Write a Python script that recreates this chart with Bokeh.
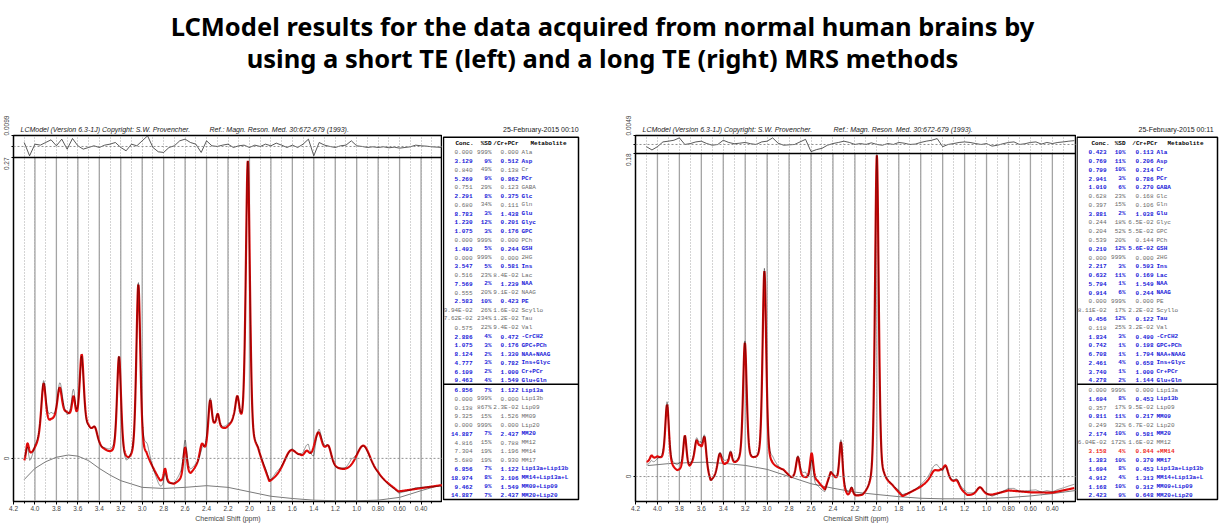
import numpy as np
from bokeh.plotting import figure
from bokeh.models import Range1d, FixedTicker, CustomJSTickFormatter, Span, ColumnDataSource
from bokeh.layouts import row, column
from bokeh.embed import file_html
from bokeh.resources import INLINE
from bokeh.core.properties import value

# ---------------------------------------------------------------- texts
TITLE_LINES = ["LCModel results for the data acquired from normal human brains by",
               "using a short TE (left) and a long TE (right) MRS methods"]
HEADER_LEFT = "LCModel (Version 6.3-1J) Copyright: S.W. Provencher."
HEADER_REF = "Ref.: Magn. Reson. Med. 30:672-679 (1993)."
DATES = ["25-February-2015  00:10", "25-February-2015  00:11"]
X_TICK_VALUES = [4.2, 4.0, 3.8, 3.6, 3.4, 3.2, 3.0, 2.8, 2.6, 2.4, 2.2, 2.0,
                 1.8, 1.6, 1.4, 1.2, 1.0, 0.8, 0.6, 0.4]
X_TICK_LABELS = ["4.2", "4.0", "3.8", "3.6", "3.4", "3.2", "3.0", "2.8", "2.6", "2.4", "2.2", "2.0",
                 "1.8", "1.6", "1.4", "1.2", "1.0", "0.80", "0.60", "0.40"]
X_AXIS_LABEL = "Chemical Shift (ppm)"
TABLE_HEADER = ["Conc.", "%SD", "/Cr+PCr", "Metabolite"]

# ---------------------------------------------------------------- table values
METABS = ["Ala", "Asp", "Cr", "PCr", "GABA", "Glc", "Gln", "Glu", "Glyc", "GPC", "PCh", "GSH", "2HG",
          "Ins", "Lac", "NAA", "NAAG", "PE", "Scyllo", "Tau", "Val", "-CrCH2", "GPC+PCh",
          "NAA+NAAG", "Ins+Glyc", "Cr+PCr", "Glu+Gln"]
LIPMM = ["Lip13a", "Lip13b", "Lip09", "MM09", "Lip20", "MM20", "MM12", "MM14", "MM17",
         "Lip13a+Lip13b", "MM14+Lip13a+L", "MM09+Lip09", "MM20+Lip20"]

L_CONC = ["0.000", "3.129", "0.840", "5.269", "0.751", "2.291", "0.680", "8.783", "1.230", "1.075",
          "0.000", "1.493", "0.000", "3.547", "0.516", "7.569", "0.555", "2.583", "9.94E-02",
          "7.62E-02", "0.575", "2.886", "1.075", "8.124", "4.777", "6.109", "9.463"]
L_SD = [999, 9, 49, 9, 29, 8, 34, 3, 12, 3, 999, 5, 999, 5, 23, 2, 20, 10, 26, 234, 22, 4, 3, 2, 3, 2, 4]
L_RATIO = ["0.000", "0.512", "0.138", "0.862", "0.123", "0.375", "0.111", "1.438", "0.201", "0.176",
           "0.000", "0.244", "0.000", "0.581", "8.4E-02", "1.239", "9.1E-02", "0.423", "1.6E-02",
           "1.2E-02", "9.4E-02", "0.472", "0.176", "1.330", "0.782", "1.000", "1.549"]
L_LCONC = ["6.856", "0.000", "0.138", "9.325", "0.000", "14.887", "4.816", "7.304", "5.680",
           "6.856", "18.974", "9.462", "14.887"]
L_LSD = [7, 999, 867, 15, 999, 7, 15, 19, 19, 7, 8, 9, 7]
L_LRATIO = ["1.122", "0.000", "2.3E-02", "1.526", "0.000", "2.437", "0.788", "1.196", "0.930",
            "1.122", "3.106", "1.549", "2.437"]

R_CONC = ["0.423", "0.769", "0.799", "2.941", "1.010", "0.628", "0.397", "3.881", "0.244", "0.204",
          "0.539", "0.210", "0.000", "2.217", "0.632", "5.794", "0.914", "0.000", "8.11E-02",
          "0.456", "0.118", "1.834", "0.742", "6.708", "2.461", "3.740", "4.278"]
R_SD = [10, 11, 10, 3, 6, 23, 15, 2, 18, 52, 20, 12, 999, 3, 11, 1, 6, 999, 17, 12, 25, 3, 1, 1, 4, 1, 2]
R_RATIO = ["0.113", "0.206", "0.214", "0.786", "0.270", "0.168", "0.106", "1.038", "6.5E-02",
           "5.5E-02", "0.144", "5.6E-02", "0.000", "0.593", "0.169", "1.549", "0.244", "0.000",
           "2.2E-02", "0.122", "3.2E-02", "0.490", "0.198", "1.794", "0.658", "1.000", "1.144"]
R_LCONC = ["0.000", "1.694", "0.357", "0.811", "0.249", "2.174", "6.04E-02", "3.158", "1.383",
           "1.694", "4.912", "1.168", "2.423"]
R_LSD = [999, 8, 17, 11, 32, 10, 172, 4, 10, 8, 4, 10, 9]
R_LRATIO = ["0.000", "0.453", "9.5E-02", "0.217", "6.7E-02", "0.581", "1.6E-02", "0.844", "0.370",
            "0.453", "1.313", "0.312", "0.648"]
R_FLAGGED = "MM14"

# ---------------------------------------------------------------- spectra
L_Y_TOP, L_RES_MAX = 0.27, 0.0099
R_Y_TOP, R_RES_MAX = 0.18, 0.0049
L_Y_VIEW = (-0.0387, 0.2897)
R_Y_VIEW = (-0.0139, 0.1900)

# short TE: valleys / slope points of the fit (ppm, value)
L_ENV_PPM = [4.10, 4.016, 3.85, 3.705, 3.61, 3.50, 3.378, 3.316, 3.13, 2.96, 2.834, 2.703, 2.548,
             2.41, 2.327, 2.22, 2.15, 1.92, 1.814, 1.528, 1.124, 0.80, 0.611, 0.40, 0.22]
L_ENV_VAL = [-0.004, 0.0054, 0.032, 0.039, 0.031, 0.026, 0.0084, 0.004, -0.005, 0.0, -0.0214,
             -0.024, -0.0155, 0.004, 0.0248, 0.025, 0.03, 0.004, -0.0229, -0.0036, -0.0125,
             -0.017, -0.0304, -0.027, -0.0244]
# short TE: peak apexes (ppm, value, width ppm)
L_PK_PPM = [4.07, 3.92, 3.77, 3.64, 3.564, 3.44, 3.216, 3.036, 2.787, 2.60, 2.445, 2.367, 2.296,
            2.113, 2.015, 1.965, 1.62, 1.465, 1.357, 1.264, 0.937]
L_PK_VAL = [0.0134, 0.067, 0.0635, 0.056, 0.0933, 0.028, 0.0912, 0.156, -0.0092, 0.0098, 0.0129,
            0.052, 0.040, 0.056, 0.267, 0.028, 0.0069, 0.0069, 0.0233, 0.0114, 0.0114]
L_PK_FWHM = [0.03, 0.05, 0.05, 0.035, 0.045, 0.05, 0.045, 0.045, 0.03, 0.04, 0.045, 0.04, 0.035,
             0.045, 0.045, 0.04, 0.14, 0.06, 0.09, 0.07, 0.16]
L_BASE_PPM = [4.10, 4.00, 3.90, 3.80, 3.69, 3.60, 3.50, 3.40, 3.30, 3.20, 3.10, 3.00, 2.80, 2.60,
              2.40, 2.20, 2.00, 1.80, 1.60, 1.40, 1.20, 1.00, 0.80, 0.60, 0.40, 0.22]
L_BASE_VAL = [-0.019, -0.009, -0.003, 0.001, 0.003, 0.002, -0.002, -0.009, -0.015, -0.020, -0.023,
              -0.026, -0.027, -0.026, -0.0245, -0.026, -0.030, -0.034, -0.036, -0.0375, -0.038,
              -0.038, -0.0375, -0.035, -0.029, -0.024]
# residual every 0.05 ppm from 4.10 to 0.20
L_RESID = [0.0036, -0.0084, 0.0021, 0.0012, 0.0036, 0.0060, 0.0006, 0.0066, -0.0024, 0.0072,
           0.0006, -0.0024, -0.0009, 0.0006, -0.0009, 0.0012, 0.0021, 0.0036, -0.0009, -0.0039,
           0.0021, 0.0006, 0.0051, 0.0096, -0.0009, -0.0048, -0.0054, -0.0009, 0.0006, 0.0051,
           0.0066, 0.0036, 0.0021, -0.0054, 0.0051, 0.0006, 0.0, 0.0012, 0.0021, -0.0009,
           0.0006, 0.0012, -0.0009, 0.0012, 0.0, 0.0021, 0.0006, 0.0030, 0.0012, -0.0009,
           0.0012, -0.0009, 0.0021, 0.0066, -0.0084, 0.0036, 0.0012, 0.0, -0.0009, 0.0006,
           0.0012, 0.0051, 0.0006, 0.0, -0.0009, -0.0003, -0.0009, -0.0003, -0.0012, -0.0006,
           -0.0015, -0.0009, -0.0003, 0.0012, 0.0006, 0.0003, -0.0003, -0.0006, -0.0009]

# long TE
R_ENV_PPM = [4.09, 4.00, 3.82, 3.706, 3.61, 3.515, 3.373, 3.29, 3.115, 2.93, 2.85, 2.78, 2.66,
             2.54, 2.473, 2.42, 2.266, 2.13, 1.934, 1.86, 1.766, 1.60, 1.42, 1.175, 0.95, 0.80,
             0.60, 0.40, 0.19]
R_ENV_VAL = [0.008, 0.0105, 0.0024, 0.0043, 0.0155, -0.0032, 0.0061, 0.0061, 0.0075, 0.0043,
             0.003, -0.0013, -0.0013, -0.0032, -0.0078, 0.002, -0.0115, -0.0119, -0.0041, -0.006,
             -0.0115, -0.006, 0.0024, -0.0106, -0.0103, -0.0078, -0.0088, -0.009, -0.0063]
R_PK_PPM = [4.055, 3.912, 3.75, 3.645, 3.57, 3.433, 3.333, 3.203, 3.025, 2.72, 2.594, 2.327, 2.23,
            2.0, 1.479, 1.373, 1.27, 1.06]
R_PK_VAL = [0.0117, 0.040, 0.0228, 0.020, 0.0219, 0.0126, 0.0135, 0.0745, 0.1144, 0.0108, 0.013,
            0.0191, -0.0063, 0.179, 0.0033, 0.0061, -0.0022, -0.006]
R_PK_FWHM = [0.03, 0.04, 0.035, 0.035, 0.035, 0.045, 0.03, 0.04, 0.04, 0.04, 0.035, 0.035, 0.03,
             0.04, 0.07, 0.05, 0.05, 0.07]
R_BASE_PPM = [4.09, 3.90, 3.70, 3.57, 3.40, 3.20, 3.00, 2.80, 2.60, 2.40, 2.20, 2.00, 1.80, 1.60,
              1.40, 1.20, 1.00, 0.80, 0.60, 0.40, 0.19]
R_BASE_VAL = [0.0061, 0.0072, 0.0078, 0.008, 0.0074, 0.0062, 0.0040, 0.0, -0.0040, -0.0065,
              -0.0087, -0.0100, -0.0112, -0.0121, -0.0124, -0.0124, -0.0122, -0.0117, -0.0108,
              -0.0095, -0.0078]
R_RESID = [-0.0012, -0.0030, -0.0012, 0.0014, 0.0018, 0.0023, 0.0036, 0.0, 0.0005, 0.0014,
           0.0018, 0.0005, -0.0004, 0.0, 0.0023, 0.0011, 0.0004, 0.0007, 0.0011, 0.0004,
           0.0, 0.0014, 0.0018, 0.0036, 0.0007, -0.0004, -0.0002, 0.0, 0.0014, 0.0028,
           -0.0039, -0.0028, -0.0021, -0.0004, 0.0005, 0.0011, 0.0018, 0.0011, 0.0, 0.0005,
           0.0, 0.0009, 0.0, -0.0004, 0.0005, 0.0, 0.0011, 0.0007, 0.0, 0.0002,
           0.0011, 0.0018, 0.0023, 0.0032, -0.0012, 0.0, 0.0005, 0.0011, 0.0014, 0.0011,
           0.0005, 0.0, 0.0005, -0.0009, -0.0004, 0.0004, 0.0011, 0.0014, 0.0, 0.0004,
           0.0011, 0.0014, 0.0002, 0.0011, 0.0005, 0.0011, 0.0014, 0.0018, 0.0021]

# ---------------------------------------------------------------- style / layout
ROW_TOP, PAGE_BOTTOM, PAGE_RIGHT = 100, 524, 1220
BORDER_TOP, BORDER_BOTTOM = 35, 23          # shared by every plot of the row
FRAME_TOP, FRAME_BOTTOM = ROW_TOP + BORDER_TOP, PAGE_BOTTOM - BORDER_BOTTOM
SANS = "Liberation Sans"
MONO = "Liberation Mono"
BLUE, GRAY, RED = "#2020d8", "#6a6a6a", "#ee2a1e"
FIT_RED = "#e00a0a"
NB = "\u00a0"
TABLE_FONT = "6px"


def shape(x, c, w):
    d = (x - c) / (w / 2.0)
    return 0.6 * np.exp(-np.log(2) * d * d) + 0.4 / (1 + d * d)


def build_fit(grid, env_p, env_v, pk_p, pk_v, pk_w):
    ep, ev = np.array(env_p), np.array(env_v)
    o = np.argsort(ep)
    env = lambda x: np.interp(x, ep[o], ev[o])
    pp, pv, pw = np.array(pk_p), np.array(pk_v), np.array(pk_w)
    A = shape(pp[:, None], pp[None, :], pw[None, :])
    h = np.linalg.solve(A, pv - env(pp))
    return env(grid) + shape(grid[:, None], pp[None, :], pw[None, :]) @ h


def style_title(t, text, align, offset, font_style):
    t.text = text
    t.align = align
    t.offset = offset
    t.text_font = SANS
    t.text_font_size = "7px"
    t.text_font_style = font_style
    t.text_color = "#1a1a1a"
    t.standoff = 6


def spectrum_panel(width, border_left, x_end, y_view, y_top, res_max, title_offset, gap,
                   env_p, env_v, pk_p, pk_v, pk_w, base_p, base_v, resid):
    y_lo, y_hi = y_view
    p = figure(width=width, height=PAGE_BOTTOM - ROW_TOP, x_range=Range1d(4.2, x_end),
               y_range=Range1d(y_lo, y_hi), output_backend="svg", toolbar_location=None,
               min_border_left=border_left, min_border_right=0, min_border_top=BORDER_TOP,
               min_border_bottom=BORDER_BOTTOM)
    style_title(p.title, HEADER_LEFT + NB * gap + HEADER_REF, "left", title_offset, "italic")

    frac = (y_hi - y_top) / (y_hi - y_lo)
    p.extra_y_ranges = {"res": Range1d(res_max - 2 * res_max / frac, res_max)}

    res_ppm = 4.10 - 0.05 * np.arange(len(resid))
    grid = np.linspace(4.10, res_ppm[-1], 1561)
    fit = build_fit(grid, env_p, env_v, pk_p, pk_v, pk_w)
    data = fit + np.interp(grid, res_ppm[::-1], np.array(resid)[::-1])

    minor = [round((a + b) / 2, 2) for a, b in zip(X_TICK_VALUES[:-1], X_TICK_VALUES[1:])] + [0.3]
    p.xgrid.ticker = FixedTicker(ticks=sorted(X_TICK_VALUES + minor, reverse=True))
    p.xgrid.grid_line_color = "#a8a8a8"
    p.xgrid.grid_line_dash = "1 2"
    p.ygrid.visible = False
    solid = X_TICK_VALUES[1:]
    p.segment(x0=solid, x1=solid, y0=[y_lo] * len(solid), y1=[y_top] * len(solid),
              line_color="#a4a4a4", line_width=1.3)

    p.add_layout(Span(location=0, dimension="width", line_color="#909090", line_dash="2 2", line_width=1))
    p.add_layout(Span(location=0, dimension="width", y_range_name="res", line_color="#909090",
                      line_dash="2 2", line_width=1))
    p.add_layout(Span(location=y_top, dimension="width", line_color="black", line_width=1.5))

    p.line(base_p, base_v, line_color="#7a7a7a", line_width=1)
    p.line(grid, fit, line_color=FIT_RED, line_width=2.2)
    p.line(grid, data, line_color="black", line_width=0.7, line_alpha=0.6)
    p.line(res_ppm, resid, y_range_name="res", line_color="#303030", line_width=0.8)

    p.outline_line_color = "black"
    p.outline_line_width = 1.5

    xa = p.xaxis[0]
    xa.ticker = FixedTicker(ticks=X_TICK_VALUES, minor_ticks=minor)
    xa.formatter = CustomJSTickFormatter(args=dict(vals=X_TICK_VALUES, labs=X_TICK_LABELS), code="""
        for (let i = 0; i < vals.length; i++) { if (Math.abs(vals[i] - tick) < 1e-6) return labs[i]; }
        return "";""")
    xa.axis_label = X_AXIS_LABEL
    xa.axis_label_text_font = SANS
    xa.axis_label_text_font_size = "7px"
    xa.axis_label_text_font_style = "normal"
    xa.axis_label_standoff = 1
    xa.major_label_text_font = SANS
    xa.major_label_text_font_size = "6.5px"
    xa.major_label_standoff = 1
    xa.major_tick_out, xa.major_tick_in = 3, 0
    xa.minor_tick_out, xa.minor_tick_in = 2, 0
    xa.axis_line_color = "black"

    # rotated labels: the main-top label sits below its tick, the residual one above its tick
    y_ticks = [0.0, y_top, (y_top + y_hi) / 2, y_hi - 1e-7]
    y_labels = ["0", str(y_top) + NB * 7, "", NB * 11 + str(res_max)]
    ya = p.yaxis[0]
    ya.ticker = FixedTicker(ticks=y_ticks, minor_ticks=[])
    ya.formatter = CustomJSTickFormatter(args=dict(vals=y_ticks, labs=y_labels), code="""
        for (let i = 0; i < vals.length; i++) { if (Math.abs(vals[i] - tick) < 1e-6) return labs[i]; }
        return "";""")
    ya.major_label_orientation = "vertical"
    ya.major_label_text_font = SANS
    ya.major_label_text_font_size = "6.5px"
    ya.major_label_standoff = 1
    ya.major_tick_out, ya.major_tick_in = 2, 0
    ya.axis_line_color = "black"
    return p


def table_panel(x0, x1, box, cols, hdr, date_offset, date, conc, sd, ratio, lconc, lsd, lratio,
                flagged=None):
    # frame covers the table area; y axis of the frame is in page pixels (downwards)
    p = figure(width=x1 - x0, height=PAGE_BOTTOM - ROW_TOP, x_range=Range1d(x0, x1),
               y_range=Range1d(FRAME_BOTTOM, FRAME_TOP - 1), output_backend="svg",
               toolbar_location=None, min_border_left=0, min_border_right=0,
               min_border_top=BORDER_TOP, min_border_bottom=BORDER_BOTTOM,
               x_axis_location=None, y_axis_location=None)
    style_title(p.title, date, "right", date_offset, "normal")
    p.grid.visible = False
    p.outline_line_color = None
    bl, br, bt, bb, sep = box
    p.quad(left=[bl], right=[br], top=[bt], bottom=[bb], fill_color=None, line_color="black", line_width=1.5)
    p.segment(x0=[bl], x1=[br], y0=[sep], y1=[sep], line_color="black", line_width=1.5)

    for x, t, a in zip(hdr, TABLE_HEADER, ["left", "right", "right", "left"]):
        p.text(x=[x], y=[142], text=[t], text_align=a, text_baseline="middle", text_font=value(MONO),
               text_font_size=value(TABLE_FONT), text_font_style="bold", text_color="black")

    names = METABS + LIPMM
    ys = [150.8 + 8.8 * i for i in range(len(METABS))] + [389.2 + 8.8 * i for i in range(len(LIPMM))]
    all_conc, all_sd, all_ratio = conc + lconc, sd + lsd, ratio + lratio
    colors, styles, shown = [], [], []
    for n, s in zip(names, all_sd):
        if flagged is not None and n == flagged:
            colors.append(RED); styles.append("bold"); shown.append("+" + n)
        elif s <= 12:
            colors.append(BLUE); styles.append("bold"); shown.append(n)
        else:
            colors.append(GRAY); styles.append("normal"); shown.append(n)
    src = ColumnDataSource(dict(y=ys, conc=all_conc, sd=[f"{s}%" for s in all_sd], ratio=all_ratio,
                                name=shown, c=colors, fs=styles,
                                xc=[cols[0]] * len(ys), xs=[cols[1]] * len(ys),
                                xr=[cols[2]] * len(ys), xn=[cols[3]] * len(ys)))
    for xf, tf, al in [("xc", "conc", "right"), ("xs", "sd", "right"), ("xr", "ratio", "right"),
                       ("xn", "name", "left")]:
        p.text(x=xf, y="y", text=tf, source=src, text_align=al, text_baseline="middle",
               text_font=value(MONO), text_font_size=value(TABLE_FONT), text_font_style="fs",
               text_color="c")
    return p


# ---------------------------------------------------------------- title
title_fig = figure(width=PAGE_RIGHT, height=ROW_TOP, x_range=Range1d(0, PAGE_RIGHT),
                   y_range=Range1d(ROW_TOP, 0), output_backend="svg", toolbar_location=None,
                   title=None, min_border=0, x_axis_location=None, y_axis_location=None)
title_fig.grid.visible = False
title_fig.outline_line_color = None
title_fig.text(x=[602, 602], y=[25, 57], text=TITLE_LINES, text_align="center", text_baseline="middle",
               text_font=value("Noto Sans"), text_font_size=value("25.5px"), text_font_style="bold",
               text_color="black")

left_spec = spectrum_panel(442, 13, 0.2, L_Y_VIEW, L_Y_TOP, L_RES_MAX, 7, 10,
                           L_ENV_PPM, L_ENV_VAL, L_PK_PPM, L_PK_VAL, L_PK_FWHM,
                           L_BASE_PPM, L_BASE_VAL, L_RESID)
left_table = table_panel(442, 622, (443, 578, 135.8, 499, 383.5), (472, 491, 518, 521),
                         (455, 491, 518, 530), 42, DATES[0],
                         L_CONC, L_SD, L_RATIO, L_LCONC, L_LSD, L_LRATIO)
right_spec = spectrum_panel(454, 12, 0.18, R_Y_VIEW, R_Y_TOP, R_RES_MAX, 7, 11,
                            R_ENV_PPM, R_ENV_VAL, R_PK_PPM, R_PK_VAL, R_PK_FWHM,
                            R_BASE_PPM, R_BASE_VAL, R_RESID)
right_table = table_panel(1076, PAGE_RIGHT, (1076.5, 1217, 135.8, 499, 383.5), (1106, 1125, 1153, 1156),
                          (1091, 1125, 1157, 1167), 5, DATES[1],
                          R_CONC, R_SD, R_RATIO, R_LCONC, R_LSD, R_LRATIO, flagged=R_FLAGGED)

page = column(title_fig, row(left_spec, left_table, right_spec, right_table, spacing=0), spacing=0)
open("out.html", "w").write(file_html(page, INLINE))
